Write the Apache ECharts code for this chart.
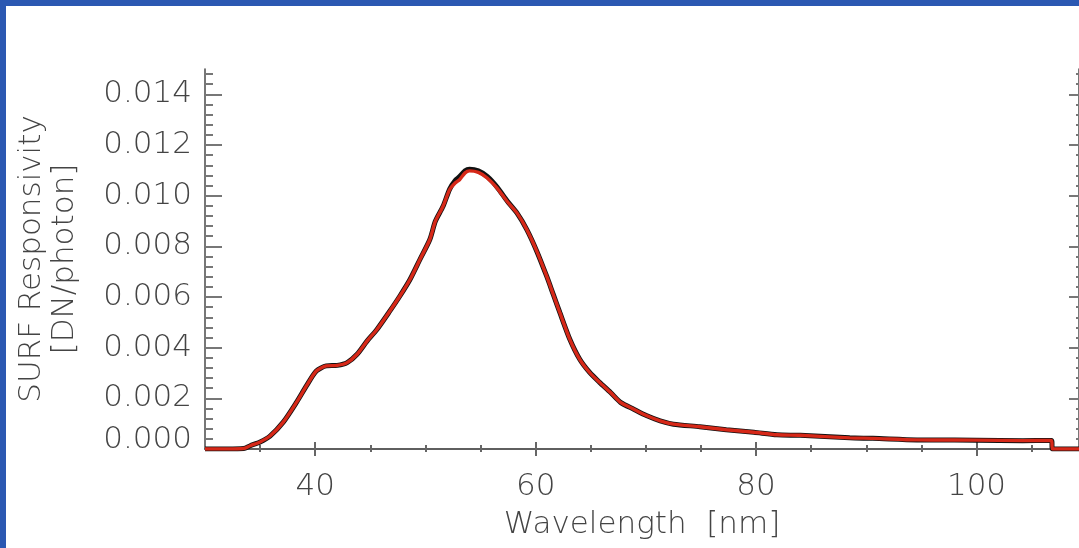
<!DOCTYPE html>
<html><head><meta charset="utf-8">
<script src="https://cdn.jsdelivr.net/npm/echarts@6/dist/echarts.min.js"></script>
<style>html,body{margin:0;padding:0;background:#fff}#c{width:1079px;height:548px}</style>
</head><body><div id="c"></div><script>
// ---- data ----
const wavelength = [30, 32, 33.5, 34.1, 35.0, 35.9, 37.1, 38.3, 39.2, 40.1, 41.0, 42.0, 42.9, 43.8, 44.7, 45.6, 46.7, 47.7, 48.6, 49.5, 50.4, 50.9, 51.6, 52.2, 52.7, 53.1, 53.6, 54.0, 54.8, 55.6, 56.5, 57.4, 58.3, 59.2, 60.1, 61.0, 61.6, 62.2, 63.1, 64.0, 64.9, 65.8, 66.8, 67.7, 68.9, 70.1, 71.3, 72.5, 74.9, 77.3, 79.8, 81.9, 84.0, 88.5, 90.6, 94.6, 100.0, 104.2, 106.8, 106.9, 109.3];
const respRed = [0, 0, 0.00002, 0.00013, 0.00028, 0.00051, 0.00106, 0.00184, 0.00249, 0.00308, 0.00328, 0.00330, 0.00341, 0.00374, 0.00426, 0.00472, 0.00540, 0.00605, 0.00669, 0.00748, 0.00827, 0.00899, 0.00958, 0.01024, 0.01050, 0.01063, 0.01090, 0.01098, 0.01092, 0.01070, 0.01030, 0.00978, 0.00932, 0.00866, 0.00781, 0.00682, 0.00610, 0.00538, 0.00433, 0.00354, 0.00302, 0.00263, 0.00223, 0.00184, 0.00157, 0.00131, 0.00111, 0.00098, 0.00088, 0.00076, 0.00066, 0.00056, 0.00054, 0.00044, 0.00042, 0.00036, 0.00035, 0.00033, 0.00034, 0, 0];
const respBlack = [0, 0, 0.00002, 0.00013, 0.00028, 0.00051, 0.00106, 0.00184, 0.00249, 0.00308, 0.00328, 0.00330, 0.00341, 0.00374, 0.00426, 0.00472, 0.00540, 0.00605, 0.00669, 0.00748, 0.00827, 0.00899, 0.00958, 0.01026, 0.01060, 0.01075, 0.01098, 0.01104, 0.01098, 0.01076, 0.01034, 0.00980, 0.00932, 0.00866, 0.00781, 0.00682, 0.00610, 0.00538, 0.00433, 0.00354, 0.00302, 0.00263, 0.00223, 0.00184, 0.00157, 0.00131, 0.00111, 0.00098, 0.00088, 0.00076, 0.00066, 0.00056, 0.00054, 0.00044, 0.00042, 0.00036, 0.00035, 0.00033, 0.00034, 0, 0];
const xMajorTicks = [40, 60, 80, 100];
const xMinorTicks = [35, 45, 50, 55, 65, 70, 75, 85, 90, 95, 105];
const yMajorTicks = [0, 0.002, 0.004, 0.006, 0.008, 0.010, 0.012, 0.014];
const yMinorTicks = [];
for (let i = 1; i <= 37; i++) { if (i % 5 !== 0) yMinorTicks.push(+(i * 0.0004).toFixed(4)); }

const X_MIN = 30, X_MAX = 109.3, Y_MIN = 0, Y_MAX = 0.015;
const FONT = 'DejaVu Sans';
const TXT = '#444';
const AX = '#555';

function xAx(pos, ticks, len, opts) {
  return Object.assign({
    type: 'value', position: pos, min: X_MIN, max: X_MAX, gridIndex: 0,
    axisLine: { show: false, lineStyle: { color: AX, width: 1.6 } },
    axisTick: { show: true, inside: true, length: len, customValues: ticks, lineStyle: { color: '#666', width: 2 } },
    axisLabel: { show: false },
    splitLine: { show: false }
  }, opts || {});
}
function yAx(pos, ticks, len, opts) {
  return Object.assign({
    type: 'value', position: pos, min: Y_MIN, max: Y_MAX, gridIndex: 0,
    axisLine: { show: false, lineStyle: { color: AX, width: 1.6 } },
    axisTick: { show: true, inside: true, length: len, customValues: ticks, lineStyle: { color: '#777', width: 2 } },
    axisLabel: { show: false },
    splitLine: { show: false }
  }, opts || {});
}

const chart = echarts.init(document.getElementById('c'), null, { renderer: 'canvas' });
chart.setOption({
  animation: false,
  backgroundColor: '#fff',
  textStyle: { fontFamily: FONT },
  grid: { left: 205, top: 69, right: 0, bottom: 99, containLabel: false },
  graphic: [
    { type: 'rect', z: 100, shape: { x: 0, y: 0, width: 1079, height: 6 }, style: { fill: '#2B58B2' } },
    { type: 'rect', z: 100, shape: { x: 0, y: 0, width: 6, height: 548 }, style: { fill: '#2B58B2' } }
  ],
  xAxis: [
    xAx('bottom', xMajorTicks, 7, {
      axisLine: { show: true, lineStyle: { color: AX, width: 1.6 } },
      axisLabel: { show: true, customValues: xMajorTicks, margin: 22, fontSize: 31, fontFamily: FONT, fontWeight: 200, color: TXT },
      name: 'Wavelength  [nm]', nameLocation: 'middle', nameGap: 60,
      nameTextStyle: { fontSize: 31, fontFamily: FONT, fontWeight: 200, color: TXT }
    }),
    xAx('bottom', xMinorTicks, 4),
    xAx('top', xMajorTicks, 7, { axisLine: { show: true, lineStyle: { color: AX, width: 1.6 } } }),
    xAx('top', xMinorTicks, 3)
  ],
  yAxis: [
    yAx('left', yMajorTicks, 17, {
      axisLine: { show: true, lineStyle: { color: AX, width: 1.6 } },
      axisLabel: {
        show: true, customValues: yMajorTicks, margin: 13, fontSize: 31, fontFamily: FONT, fontWeight: 200, color: TXT,
        formatter: v => (Math.abs(v) < 1e-9 ? '{z|0.000}' : v.toFixed(3)),
        rich: { z: { fontSize: 31, fontFamily: FONT, fontWeight: 200, color: TXT, padding: [0, 0, 18, 0] } }
      },
      name: 'SURF Responsivity\n[DN/photon]', nameLocation: 'middle', nameRotate: 90, nameGap: 124,
      nameTextStyle: { fontSize: 31, lineHeight: 33, fontFamily: FONT, fontWeight: 200, color: TXT }
    }),
    yAx('left', yMinorTicks, 8),
    yAx('right', yMajorTicks, 10, { axisLine: { show: true, lineStyle: { color: AX, width: 1.6 } } }),
    yAx('right', yMinorTicks, 3)
  ],
  series: [
    {
      type: 'line', xAxisIndex: 0, yAxisIndex: 0, showSymbol: false, clip: true,
      smooth: 0.25,
      data: wavelength.map((w, i) => [w, respBlack[i]]),
      lineStyle: { color: '#111', width: 5 }, z: 2
    },
    {
      type: 'line', xAxisIndex: 0, yAxisIndex: 0, showSymbol: false, clip: true,
      smooth: 0.25,
      data: wavelength.map((w, i) => [w, respRed[i]]),
      lineStyle: { color: '#D62818', width: 3.4 }, z: 3
    }
  ]
});
</script></body></html>
